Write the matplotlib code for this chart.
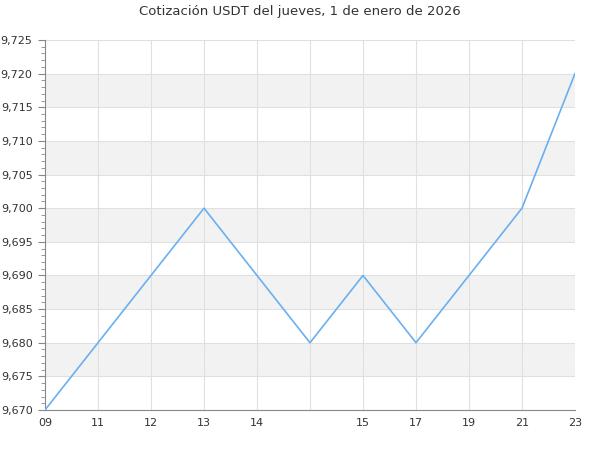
import matplotlib.pyplot as plt
import matplotlib.ticker as mticker
import numpy as np

# data
x_labels = ["09", "11", "12", "13", "14", "", "15", "17", "19", "21", "23"]
values = [9.670, 9.680, 9.690, 9.700, 9.690, 9.680, 9.690, 9.680, 9.690, 9.700, 9.720]
title = "Cotización USDT del jueves, 1 de enero de 2026"

fig = plt.figure(figsize=(6, 4.5), dpi=100)
ax = fig.add_axes([0.075, 0.0889, 0.8833, 0.8222])

xs = np.arange(len(values))
ymin, ymax = 9.670, 9.725

# alternating bands
for lo in np.arange(9.675, ymax, 0.010):
    ax.axhspan(lo, lo + 0.005, color="#f2f2f2", zorder=0, lw=0)

ax.plot(xs, values, color="#6aaff0", lw=1.2, zorder=3)

ax.set_xlim(0, len(values) - 1)
ax.set_ylim(ymin, ymax)
ax.set_xticks(xs)
ax.set_xticklabels(x_labels)
ax.yaxis.set_major_locator(mticker.MultipleLocator(0.005))
ax.yaxis.set_minor_locator(mticker.MultipleLocator(0.001))
ax.yaxis.set_major_formatter(mticker.FuncFormatter(lambda v, p: f"{v:.3f}".replace(".", ",")))

ax.grid(True, which="major", color="#e0e0e0", lw=0.8, zorder=1)
ax.set_axisbelow(True)
for s in ["top", "right"]:
    ax.spines[s].set_visible(False)
for s in ["left", "bottom"]:
    ax.spines[s].set_color("#888888")
ax.tick_params(axis="x", length=0, pad=6, labelsize=8, labelcolor="#333333")
ax.tick_params(axis="y", which="major", length=5, pad=4, color="#888888", labelsize=8, labelcolor="#333333")
ax.tick_params(axis="y", which="minor", length=3, color="#888888")

fig.suptitle(title, y=0.99, fontsize=9.5, color="#333333")
fig.savefig("out.png", dpi=100)
